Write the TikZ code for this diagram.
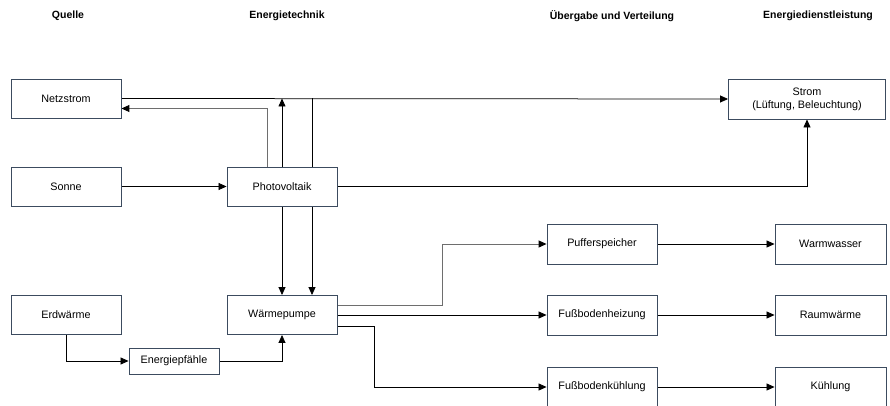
\documentclass[tikz,border=0pt]{standalone}
\usepackage{fontspec}
\setmainfont{Liberation Sans}
\usetikzlibrary{arrows.meta,backgrounds}
\definecolor{boxline}{RGB}{60,75,95}
\definecolor{lgray}{RGB}{110,110,110}
\begin{document}
\begin{tikzpicture}[x=1pt,y=-1pt,
  box/.style={draw=boxline,line width=0.9pt,fill=white,minimum width=110pt,minimum height=39pt,inner sep=1pt,font=\fontsize{10.8}{13}\selectfont,align=center},
  head/.style={font=\fontsize{10.5}{12}\selectfont\bfseries},
  arr/.style={draw=black,line width=0.75pt,-{Triangle[length=8pt,width=7pt,color=black]}},
  garr/.style={draw=lgray,line width=1pt,-{Triangle[length=8pt,width=7pt,color=black]}}]
\useasboundingbox (0,0) rectangle (890,406);
% headers
\node[head] (h1) at (68,16) {Quelle};
\node[head] (h2) at (287,16) {Energietechnik};
\node[head] (h3) at (612,16) {Übergabe und Verteilung};
\node[head] (h4) at (818,16) {Energiedienstleistung};
% boxes
\node[box] (net) at (66,98.5) {Netzstrom};
\node[box] (sonne) at (66,186.5) {Sonne};
\node[box] (pv) at (282,186.5) {Photovoltaik};
\node[box] (erd) at (66,315) {Erdwärme};
\node[box] (wp) at (282,315) {Wärmepumpe};
\node[box,minimum width=90pt,minimum height=26pt] (pf) at (174,361) {Energiepfähle};
\node[box,minimum height=40pt] (puf) at (602,244) {Pufferspeicher};
\node[box,minimum height=40pt] (fbh) at (602,315) {Fußbodenheizung};
\node[box,minimum height=40pt] (fbk) at (602,387) {Fußbodenkühlung};
\node[box,minimum width=111pt,minimum height=40pt] (ww) at (830.5,244) {Warmwasser};
\node[box,minimum width=111pt,minimum height=40pt] (rw) at (830.5,315) {Raumwärme};
\node[box,minimum width=111pt,minimum height=40pt] (kue) at (830.5,387) {Kühlung};
\node[box,minimum width=157pt,minimum height=40pt] (strom) at (807,99) {Strom\\(Lüftung, Beleuchtung)};
% connectors
\begin{pgfonlayer}{background}
\draw[arr] (net.east) -- (strom.west);
\draw[garr] ([xshift=-15pt]pv.north) |- ([yshift=-10pt]net.east);
\draw[arr] (pv.north) -- (pv.north |- net.east);
\draw[arr] ([xshift=30pt]pv.north |- net.east) -- ([xshift=30pt]wp.north);
\draw[arr] (pv.south) -- (wp.north);
\draw[arr] (pv.east) -| (strom.south);
\draw[arr] (sonne.east) -- (pv.west);
\draw[arr] (erd.south) |- (pf.west);
\draw[arr] (pf.east) -| (wp.south);
\draw[garr] ([yshift=9.5pt]wp.east) -- ++(105,0) |- (puf.west);
\draw[arr] (wp.east) -- (fbh.west);
\draw[arr] ([yshift=-11.5pt]wp.east) -- ++(37,0) |- (fbk.west);
\draw[arr] (puf.east) -- (ww.west);
\draw[arr] (fbh.east) -- (rw.west);
\draw[arr] (fbk.east) -- (kue.west);
\end{pgfonlayer}
\end{tikzpicture}
\end{document}
